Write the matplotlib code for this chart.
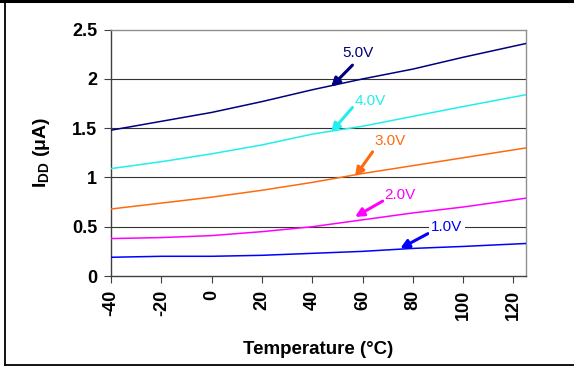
import matplotlib
matplotlib.use("Agg")
import matplotlib.pyplot as plt
from matplotlib.lines import Line2D

plt.rcParams['font.family'] = ['Liberation Sans', 'DejaVu Sans']
plt.rcParams['mathtext.fontset'] = 'custom'
plt.rcParams['mathtext.rm'] = 'Liberation Sans:bold'
plt.rcParams['axes.unicode_minus'] = False

temps = [-40, -20, 0, 20, 40, 60, 80, 100, 125]
i_5v = [1.48, 1.57, 1.66, 1.77, 1.89, 2.00, 2.10, 2.22, 2.36]
i_4v = [1.09, 1.16, 1.24, 1.33, 1.44, 1.52, 1.62, 1.72, 1.84]
i_3v = [0.68, 0.74, 0.80, 0.87, 0.95, 1.04, 1.12, 1.20, 1.30]
i_2v = [0.38, 0.39, 0.41, 0.45, 0.50, 0.57, 0.64, 0.70, 0.79]
i_1v = [0.19, 0.20, 0.20, 0.21, 0.23, 0.25, 0.28, 0.30, 0.33]

labels = ['5.0V', '4.0V', '3.0V', '2.0V', '1.0V']
colors = ['#000080', '#22EEEE', '#FF6A10', '#FF00FF', '#0000FF']
series = [i_5v, i_4v, i_3v, i_2v, i_1v]
# (text x, text y, arrow head x, arrow head y, arrow tail x, arrow tail y)
notes = [
    (58, 2.26, 47.5, 1.92, 56, 2.14),
    (63, 1.78, 47.5, 1.46, 56, 1.71),
    (71, 1.37, 57, 1.01, 64, 1.26),
    (75, 0.82, 57, 0.60, 68, 0.76),
    (93.5, 0.50, 75, 0.28, 86, 0.43),
]

fig = plt.figure(figsize=(5.74, 3.66), dpi=100)
ax = fig.add_axes([0.1934, 0.2459, 0.723, 0.673])

for y, c in zip(series, colors):
    ax.plot(temps, y, color=c, lw=1.1, zorder=3)

for lab, c, (tx, ty, hx, hy, sx, sy) in zip(labels, colors, notes):
    ax.annotate('', xy=(hx, hy), xytext=(sx, sy),
                arrowprops=dict(arrowstyle='-|>,head_length=0.5,head_width=0.25',
                                color=c, lw=2.2, shrinkA=0, shrinkB=0), zorder=4)
    bbox = None
    if lab == '1.0V':
        bbox = dict(facecolor='white', edgecolor='none', pad=1.5)
    ax.text(tx, ty, lab, color=c, fontsize=11, ha='center', va='center',
            bbox=bbox, zorder=5)

ax.set_xlim(-40, 125)
ax.set_ylim(0, 2.5)
ax.set_xticks([-40, -20, 0, 20, 40, 60, 80, 100, 120])
ax.set_yticks([0, 0.5, 1, 1.5, 2, 2.5])
ax.set_yticklabels(['0', '0.5', '1', '1.5', '2', '2.5'])
for y in [0.5, 1, 1.5, 2]:
    ax.axhline(y, color='#333333', lw=0.8, zorder=1)

for t in ax.get_xticklabels():
    t.set_rotation(90)
    t.set_fontweight('bold')
    t.set_fontsize(13)
for t in ax.get_yticklabels():
    t.set_fontweight('bold')
    t.set_fontsize(13)

ax.tick_params(direction='out', length=5, width=0.8, color='#404040', pad=5)
for s in ['left', 'bottom']:
    ax.spines[s].set_color('#404040')
    ax.spines[s].set_linewidth(1.0)
for s in ['top', 'right']:
    ax.spines[s].set_color('#909090')
    ax.spines[s].set_linewidth(1.0)

ax.set_xlabel('Temperature (°C)', fontsize=13.5, fontweight='bold', labelpad=15)
ax.set_ylabel(r'I$_{\rm DD}$ (μA)', fontsize=14, fontweight='bold', labelpad=14)

# frame around the picture
fig.add_artist(Line2D([0, 1], [0.996, 0.996], color='black', lw=2.2, transform=fig.transFigure))
fig.add_artist(Line2D([0.008, 0.008], [0.0, 0.996], color='black', lw=1.3, transform=fig.transFigure))
fig.add_artist(Line2D([0.008, 1], [0.004, 0.004], color='black', lw=1.3, transform=fig.transFigure))

fig.savefig('out.png', dpi=100)
